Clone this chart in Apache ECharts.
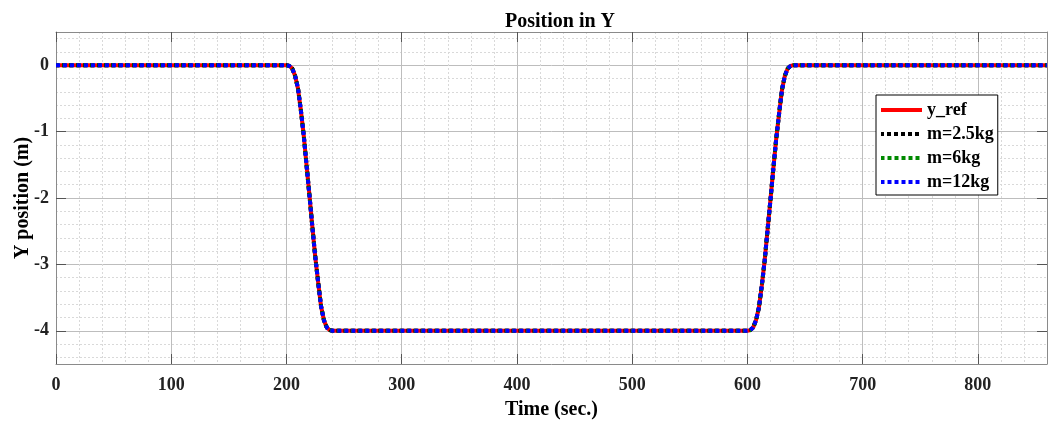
<!DOCTYPE html>
<html>
<head>
<meta charset="utf-8">
<title>Position in Y</title>
<script src="https://cdn.jsdelivr.net/npm/echarts@6/dist/echarts.min.js"></script>
<style>
  html, body { margin: 0; padding: 0; background: #fff; }
  #chart { width: 1049px; height: 421px; }
</style>
</head>
<body>
<div id="chart"></div>
<script>
// Time stamps (s) of the sampled trajectory
const timeSec = [
  0,
  200, 202.5, 205, 207.5, 210, 212.5, 215, 217.5, 220, 222.5, 225, 227.5, 230, 232.5, 235, 237.5, 240,
  600, 602.5, 605, 607.5, 610, 612.5, 615, 617.5, 620, 622.5, 625, 627.5, 630, 632.5, 635, 637.5, 640,
  860
];

// Reference Y position (m)
const yRef = [
  0,
  0, -0.01, -0.05, -0.16, -0.35, -0.68, -1.06, -1.52, -1.97, -2.44, -2.89, -3.27, -3.63, -3.84, -3.95, -3.99, -4.0,
  -4.0, -3.99, -3.95, -3.84, -3.65, -3.32, -2.94, -2.48, -2.03, -1.56, -1.11, -0.73, -0.37, -0.16, -0.05, -0.01, 0,
  0
];

// Tracked Y position for each payload mass (m)
const m25 = [
  0,
  0, -0.01, -0.05, -0.16, -0.35, -0.68, -1.06, -1.52, -1.97, -2.44, -2.89, -3.27, -3.63, -3.84, -3.95, -3.99, -4.0,
  -4.0, -3.99, -3.95, -3.84, -3.65, -3.32, -2.94, -2.48, -2.03, -1.56, -1.11, -0.73, -0.37, -0.16, -0.05, -0.01, 0,
  0
];
const m6 = [
  0,
  0, -0.01, -0.05, -0.16, -0.35, -0.68, -1.06, -1.52, -1.97, -2.44, -2.89, -3.27, -3.63, -3.84, -3.95, -3.99, -4.0,
  -4.0, -3.99, -3.95, -3.84, -3.65, -3.32, -2.94, -2.48, -2.03, -1.56, -1.11, -0.73, -0.37, -0.16, -0.05, -0.01, 0,
  0
];
const m12 = [
  0,
  0, -0.01, -0.05, -0.16, -0.35, -0.68, -1.06, -1.52, -1.97, -2.44, -2.89, -3.27, -3.63, -3.84, -3.95, -3.99, -4.0,
  -4.0, -3.99, -3.95, -3.84, -3.65, -3.32, -2.94, -2.48, -2.03, -1.56, -1.11, -0.73, -0.37, -0.16, -0.05, -0.01, 0,
  0
];

const seriesNames = ['y_ref', 'm=2.5kg', 'm=6kg', 'm=12kg'];
const xTicks = [0, 100, 200, 300, 400, 500, 600, 700, 800];
const yTicks = [-4, -3, -2, -1, 0];

const FONT = '"Liberation Serif", "Times New Roman", serif';
const AXIS_COLOR = '#8a8a8a';
const MAJOR_GRID = '#bdbdbd';
const MINOR_GRID = '#d9d9d9';
const NONE = 'rgba(0,0,0,0)';

// Minor grid: one line every 20 s (skip every 5th, which is a major line)
const xMinorColors = [NONE, MINOR_GRID, MINOR_GRID, MINOR_GRID, MINOR_GRID];
// Minor grid: ticks every 0.1 m from -4.5; keep only the 0.2 m steps between integers
const yMinorColors = [NONE, MINOR_GRID, NONE, MINOR_GRID, NONE, NONE, NONE, MINOR_GRID, NONE, MINOR_GRID];

const pairs = vals => timeSec.map((t, i) => [t, vals[i]]);

const chart = echarts.init(document.getElementById('chart'), null, { renderer: 'canvas' });

const xRange = { min: 0, max: 860 };
const yRange = { min: -4.5, max: 0.5 };

chart.setOption({
  animation: false,
  backgroundColor: '#fff',
  title: {
    text: 'Position in Y',
    left: 555,
    top: 7,
    textAlign: 'center',
    textStyle: { fontFamily: FONT, fontWeight: 'bold', fontSize: 20, color: '#000' }
  },
  grid: { left: 56, right: 2, top: 32, bottom: 57, containLabel: false, outerBoundsMode: 'none' },
  legend: {
    orient: 'vertical',
    left: 876,
    top: 95,
    data: seriesNames,
    backgroundColor: '#fff',
    borderColor: '#000',
    borderWidth: 1,
    padding: [6, 4, 4, 3],
    itemGap: 6,
    itemWidth: 41,
    itemHeight: 16,
    itemStyle: { opacity: 0 },
    lineStyle: { width: 4 },
    textStyle: { fontFamily: FONT, fontWeight: 'bold', fontSize: 18, color: '#000', lineHeight: 16 }
  },
  xAxis: [
    {
      type: 'value', position: 'bottom', ...xRange, interval: 100,
      name: 'Time (sec.)', nameLocation: 'middle', nameGap: 36, nameMoveOverlap: false,
      nameTextStyle: { fontFamily: FONT, fontWeight: 'bold', fontSize: 20, color: '#000' },
      axisLine: { show: true, onZero: false, lineStyle: { color: AXIS_COLOR, width: 1 } },
      axisTick: { show: true, inside: true, length: 10, customValues: xTicks, lineStyle: { color: '#555' } },
      axisLabel: { customValues: xTicks, margin: 12, fontFamily: FONT, fontWeight: 'bold', fontSize: 18, color: '#222' },
      splitLine: { show: true, lineStyle: { color: MAJOR_GRID, width: 1 } }
    },
    {
      type: 'value', position: 'top', ...xRange, interval: 100,
      axisLine: { show: true, onZero: false, lineStyle: { color: AXIS_COLOR, width: 1 } },
      axisTick: { show: true, inside: true, length: 10, customValues: xTicks, lineStyle: { color: '#555' } },
      axisLabel: { show: false },
      splitLine: { show: false }
    },
    {
      type: 'value', position: 'bottom', ...xRange, interval: 20,
      axisLine: { show: false },
      axisTick: { show: false },
      axisLabel: { show: false },
      splitLine: { show: true, showMinLine: true, showMaxLine: true, lineStyle: { color: xMinorColors, width: 1, type: [2, 2] } }
    }
  ],
  yAxis: [
    {
      type: 'value', position: 'left', ...yRange,
      name: 'Y position (m)', nameLocation: 'middle', nameGap: 23, nameRotate: 90,
      nameMoveOverlap: false,
      nameTextStyle: { fontFamily: FONT, fontWeight: 'bold', fontSize: 20, color: '#000' },
      axisLine: { show: true, onZero: false, lineStyle: { color: AXIS_COLOR, width: 1 } },
      axisTick: { show: true, inside: true, length: 10, customValues: yTicks, lineStyle: { color: '#555' } },
      axisLabel: { customValues: yTicks, margin: 7, fontFamily: FONT, fontWeight: 'bold', fontSize: 18, color: '#222' },
      splitLine: { show: true, lineStyle: { color: MAJOR_GRID, width: 1 } }
    },
    {
      type: 'value', position: 'right', ...yRange,
      axisLine: { show: true, onZero: false, lineStyle: { color: AXIS_COLOR, width: 1 } },
      axisTick: { show: true, inside: true, length: 10, customValues: yTicks, lineStyle: { color: '#555' } },
      axisLabel: { show: false },
      splitLine: { show: false }
    },
    {
      type: 'value', position: 'left', ...yRange, interval: 0.1,
      axisLine: { show: false },
      axisTick: { show: false },
      axisLabel: { show: false },
      splitLine: { show: true, showMinLine: true, showMaxLine: true, lineStyle: { color: yMinorColors, width: 1, type: [2, 2] } }
    }
  ],
  series: [
    {
      name: 'y_ref', type: 'line', data: pairs(yRef), symbol: 'none',
      lineStyle: { color: '#ff0000', width: 4, type: 'solid' }, itemStyle: { color: '#ff0000' }, z: 2
    },
    {
      name: 'm=2.5kg', type: 'line', data: pairs(m25), symbol: 'none',
      lineStyle: { color: '#000000', width: 4, type: [4, 3], dashOffset: 1 }, itemStyle: { color: '#000000' }, z: 3
    },
    {
      name: 'm=6kg', type: 'line', data: pairs(m6), symbol: 'none',
      lineStyle: { color: '#008a00', width: 4, type: [4, 3], dashOffset: 0.5 }, itemStyle: { color: '#008a00' }, z: 4
    },
    {
      name: 'm=12kg', type: 'line', data: pairs(m12), symbol: 'none',
      lineStyle: { color: '#0000ff', width: 4, type: [4, 3] }, itemStyle: { color: '#0000ff' }, z: 5
    }
  ]
});
</script>
</body>
</html>
